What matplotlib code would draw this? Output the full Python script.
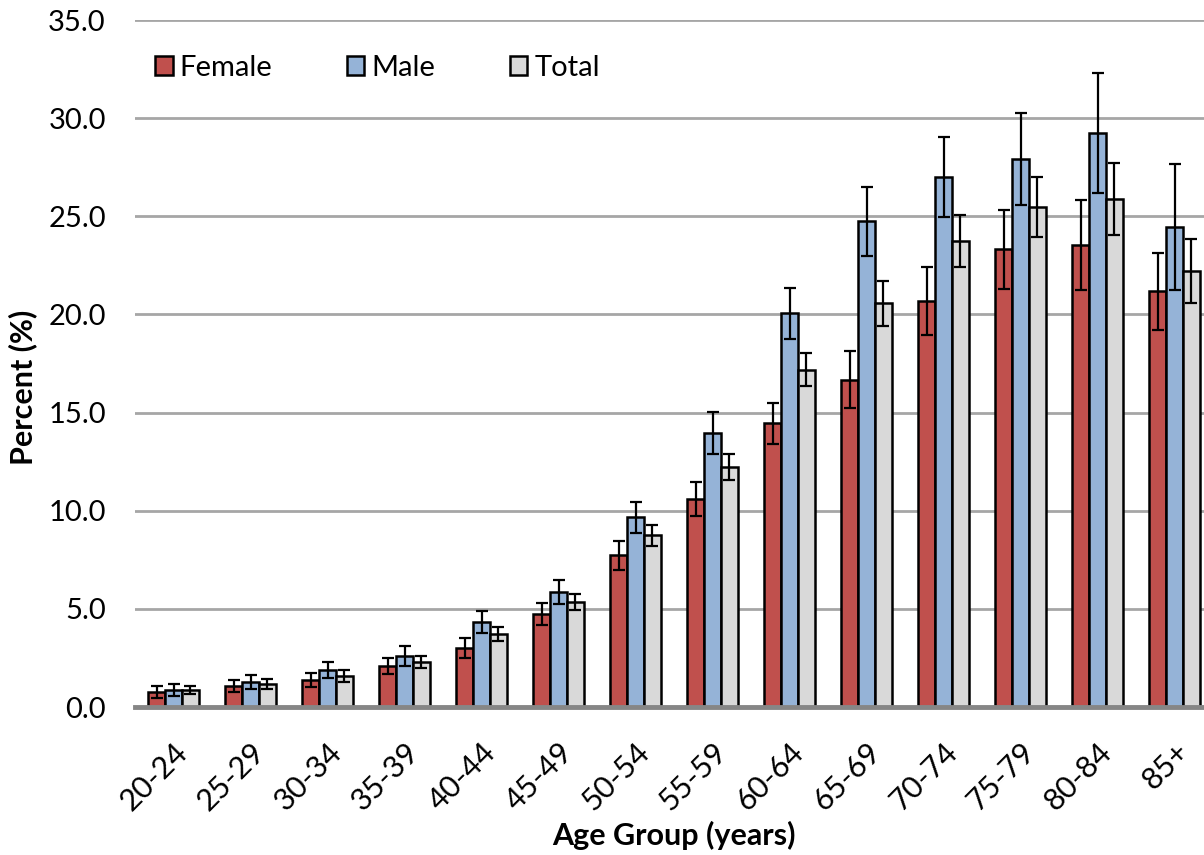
import numpy as np
import matplotlib.pyplot as plt

# data
groups = ['20-24', '25-29', '30-34', '35-39', '40-44', '45-49', '50-54',
          '55-59', '60-64', '65-69', '70-74', '75-79', '80-84', '85+']
female = [0.77, 1.07, 1.38, 2.09, 3.01, 4.74, 7.72, 10.58, 14.45, 16.68, 20.68, 23.32, 23.54, 21.17]
female_err = [0.30, 0.30, 0.35, 0.40, 0.50, 0.55, 0.72, 0.86, 1.05, 1.45, 1.75, 2.00, 2.30, 1.95]
male = [0.85, 1.28, 1.89, 2.60, 4.34, 5.87, 9.66, 13.94, 20.05, 24.74, 27.00, 27.93, 29.23, 24.44]
male_err = [0.30, 0.35, 0.41, 0.50, 0.56, 0.60, 0.80, 1.07, 1.28, 1.75, 2.05, 2.35, 3.05, 3.20]
total = [0.87, 1.17, 1.58, 2.30, 3.72, 5.36, 8.74, 12.21, 17.19, 20.56, 23.74, 25.48, 25.87, 22.21]
total_err = [0.20, 0.25, 0.30, 0.30, 0.35, 0.40, 0.55, 0.66, 0.82, 1.13, 1.33, 1.53, 1.83, 1.63]

plt.rcParams['font.family'] = ['Lato', 'DejaVu Sans']

W, H = 1204, 855
fig = plt.figure(figsize=(W/100, H/100), dpi=100)
# axes runs a little past the right edge, like the cropped original
ax = fig.add_axes([135/W, (H-707)/H, 1078/W, 687/H])

x = np.arange(len(groups))
bw = 0.22
series = [(female, female_err, '#C0504D', 'Female'),
          (male, male_err, '#95B3D7', 'Male'),
          (total, total_err, '#D9D9D9', 'Total')]

for k, (vals, err, col, lab) in enumerate(series):
    ax.bar(x + (k-1)*bw, vals, bw, color=col, edgecolor='black', linewidth=1.8,
           label=lab, zorder=3,
           yerr=err, error_kw=dict(ecolor='black', elinewidth=1.6, capsize=4.5, capthick=1.6, zorder=4))

ax.set_xlim(-0.5, len(groups)-0.5)
ax.set_ylim(0, 35)
ax.set_yticks(np.arange(0, 35.1, 5))
ax.set_yticklabels(['%.1f' % v for v in np.arange(0, 35.1, 5)], fontsize=21)
ax.set_xticks(x)
ax.set_xticklabels(groups, rotation=45, ha='right', rotation_mode='anchor', fontsize=22)
ax.tick_params(axis='both', length=0)
ax.tick_params(axis='y', pad=21)
ax.tick_params(axis='x', pad=22)

ax.grid(axis='y', color='#A6A6A6', linewidth=2, zorder=0)
for s in ['top', 'right', 'left']:
    ax.spines[s].set_visible(False)
ax.spines['bottom'].set_color('#868686')
ax.spines['bottom'].set_linewidth(3.5)
ax.spines['bottom'].set_zorder(5)

ax.set_ylabel('Percent (%)', fontsize=22, fontweight='bold', va='center')
ax.yaxis.set_label_coords((23-135)/1078, (707-387)/687)
ax.set_xlabel('Age Group (years)', fontsize=22, fontweight='bold', va='center')
ax.xaxis.set_label_coords(0.5, (707-835)/687)

ax.legend(loc='center left', bbox_to_anchor=((155-135)/1078, (707-68)/687), ncol=3,
          frameon=False, fontsize=21, handlelength=0.6, handleheight=0.6,
          handletextpad=0.25, columnspacing=2.55, borderaxespad=0, borderpad=0)

fig.savefig('out.png', dpi=100)
